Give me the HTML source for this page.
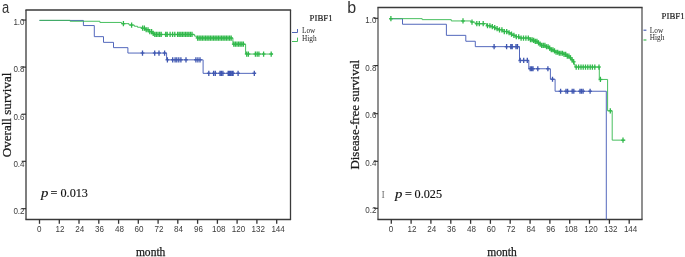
<!DOCTYPE html>
<html><head><meta charset="utf-8"><style>
html,body{margin:0;padding:0;background:#fff;}
body{width:685px;height:257px;overflow:hidden;}
svg{display:block;will-change:transform;}
.tl{font-family:"Liberation Sans",sans-serif;font-size:9.6px;fill:#3c3c3c;}
.lt{font-family:"Liberation Serif",serif;fill:#1e1e1e;}
.pl{font-family:"Liberation Sans",sans-serif;font-size:16px;fill:#333;}
.at{font-family:"Liberation Serif",serif;font-size:12.7px;fill:#1a1a1a;stroke:#1a1a1a;stroke-width:0.25px;}
.pv{font-family:"Liberation Serif",serif;font-size:12.2px;fill:#111;stroke:#111;stroke-width:0.15px;}
.cur{font-family:"Liberation Serif",serif;font-size:10px;fill:#777;}
</style></head><body>
<svg width="685" height="257" viewBox="0 0 685 257">
<path d="M25.4,10.0H291.1M25.4,219.5H291.1" fill="none" stroke="#3a3a3a" stroke-width="1.3"/>
<path d="M26.0,10.0V219.5M290.5,10.0V219.5" fill="none" stroke="#3a3a3a" stroke-width="1.3"/>
<path d="M21.7,20.05H26.0" stroke="#262626" stroke-width="1.1"/>
<text x="24.6" y="25.0" class="tl" text-anchor="end" textLength="11.21" lengthAdjust="spacingAndGlyphs">1.0</text>
<path d="M21.7,67.1H26.0" stroke="#262626" stroke-width="1.1"/>
<text x="24.6" y="72.2" class="tl" text-anchor="end" textLength="11.21" lengthAdjust="spacingAndGlyphs">0.8</text>
<path d="M21.7,114.2H26.0" stroke="#262626" stroke-width="1.1"/>
<text x="24.6" y="119.5" class="tl" text-anchor="end" textLength="11.21" lengthAdjust="spacingAndGlyphs">0.6</text>
<path d="M21.7,161.3H26.0" stroke="#262626" stroke-width="1.1"/>
<text x="24.6" y="166.8" class="tl" text-anchor="end" textLength="11.21" lengthAdjust="spacingAndGlyphs">0.4</text>
<path d="M21.7,208.7H26.0" stroke="#262626" stroke-width="1.1"/>
<text x="24.6" y="214.0" class="tl" text-anchor="end" textLength="11.21" lengthAdjust="spacingAndGlyphs">0.2</text>
<path d="M39.5,219.5V223.8" stroke="#333333" stroke-width="1.3"/>
<text x="39.2" y="232.0" class="tl" text-anchor="middle" textLength="4.48" lengthAdjust="spacingAndGlyphs">0</text>
<path d="M59.3,219.5V223.8" stroke="#333333" stroke-width="1.3"/>
<text x="60.1" y="232.0" class="tl" text-anchor="middle" textLength="8.97" lengthAdjust="spacingAndGlyphs">12</text>
<path d="M79.0,219.5V223.8" stroke="#333333" stroke-width="1.3"/>
<text x="79.8" y="232.0" class="tl" text-anchor="middle" textLength="8.97" lengthAdjust="spacingAndGlyphs">24</text>
<path d="M98.8,219.5V223.8" stroke="#333333" stroke-width="1.3"/>
<text x="99.6" y="232.0" class="tl" text-anchor="middle" textLength="8.97" lengthAdjust="spacingAndGlyphs">36</text>
<path d="M118.6,219.5V223.8" stroke="#333333" stroke-width="1.3"/>
<text x="119.4" y="232.0" class="tl" text-anchor="middle" textLength="8.97" lengthAdjust="spacingAndGlyphs">48</text>
<path d="M138.3,219.5V223.8" stroke="#333333" stroke-width="1.3"/>
<text x="139.1" y="232.0" class="tl" text-anchor="middle" textLength="8.97" lengthAdjust="spacingAndGlyphs">60</text>
<path d="M158.1,219.5V223.8" stroke="#333333" stroke-width="1.3"/>
<text x="158.9" y="232.0" class="tl" text-anchor="middle" textLength="8.97" lengthAdjust="spacingAndGlyphs">72</text>
<path d="M177.8,219.5V223.8" stroke="#333333" stroke-width="1.3"/>
<text x="178.6" y="232.0" class="tl" text-anchor="middle" textLength="8.97" lengthAdjust="spacingAndGlyphs">84</text>
<path d="M197.6,219.5V223.8" stroke="#333333" stroke-width="1.3"/>
<text x="198.4" y="232.0" class="tl" text-anchor="middle" textLength="8.97" lengthAdjust="spacingAndGlyphs">96</text>
<path d="M217.4,219.5V223.8" stroke="#333333" stroke-width="1.3"/>
<text x="218.8" y="232.0" class="tl" text-anchor="middle" textLength="13.45" lengthAdjust="spacingAndGlyphs">108</text>
<path d="M237.1,219.5V223.8" stroke="#333333" stroke-width="1.3"/>
<text x="238.5" y="232.0" class="tl" text-anchor="middle" textLength="13.45" lengthAdjust="spacingAndGlyphs">120</text>
<path d="M256.9,219.5V223.8" stroke="#333333" stroke-width="1.3"/>
<text x="258.3" y="232.0" class="tl" text-anchor="middle" textLength="13.45" lengthAdjust="spacingAndGlyphs">132</text>
<path d="M276.7,219.5V223.8" stroke="#333333" stroke-width="1.3"/>
<text x="278.1" y="232.0" class="tl" text-anchor="middle" textLength="13.45" lengthAdjust="spacingAndGlyphs">144</text>
<g transform="translate(0,0.25)">
<path d="M39.5,20.2H83.4V25.3H94.3V36.4H103.5V42.1H113.5V47.4H127.9V52.8H166.6V59.6H203.1V73.1H256" fill="none" stroke="#4a60b8" stroke-width="0.95" stroke-linejoin="miter" stroke-linecap="butt"/>
<path d="M142.5,50.2V55.4M154.7,50.2V55.4M159.0,50.2V55.4M164.6,50.2V55.4M167.4,57.0V62.2M172.7,57.0V62.2M175.1,57.0V62.2M176.8,57.0V62.2M178.8,57.0V62.2M180.9,57.0V62.2M186.0,57.0V62.2M195.9,57.0V62.2M197.9,57.0V62.2M200.0,57.0V62.2M208.8,70.5V75.7M213.6,70.5V75.7M215.3,70.5V75.7M220.0,70.5V75.7M221.4,70.5V75.7M222.9,70.5V75.7M228.2,70.5V75.7M229.3,70.5V75.7M230.6,70.5V75.7M232.0,70.5V75.7M233.1,70.5V75.7M238.1,70.5V75.7M254.3,70.5V75.7" fill="none" stroke="#3e56b0" stroke-width="1.3"/>
<path d="M140.6,52.8H144.4M152.8,52.8H156.6M157.1,52.8H160.9M162.7,52.8H166.5M165.5,59.6H169.3M170.8,59.6H174.6M173.2,59.6H177.0M174.9,59.6H178.7M176.9,59.6H180.7M179.0,59.6H182.8M184.1,59.6H187.9M194.0,59.6H197.8M196.0,59.6H199.8M198.1,59.6H201.9M206.9,73.1H210.7M211.7,73.1H215.5M213.4,73.1H217.2M218.1,73.1H221.9M219.5,73.1H223.3M221.0,73.1H224.8M226.3,73.1H230.1M227.4,73.1H231.2M228.7,73.1H232.5M230.1,73.1H233.9M231.2,73.1H235.0M236.2,73.1H240.0M252.4,73.1H256.2" fill="none" stroke="#3e56b0" stroke-width="1.5" opacity="0.8"/>
<path d="M39.5,20.1H70.1V21H99.9V22.2H121.5V23.4H129V24.8H134.3V26H137.5V27H141.3V27.9H145.2V29.5H149V31.4H152.2V33.2H154V34.2H194.6V35.9H196.8V37.8H232.9V43.9H245.6V53.8H273" fill="none" stroke="#3dbc55" stroke-width="0.95" stroke-linejoin="miter" stroke-linecap="butt"/>
<path d="M123.4,20.8V26.0M131.6,22.2V27.4M142.6,25.3V30.5M144.4,25.3V30.5M146.2,26.9V32.1M148.0,26.9V32.1M149.8,28.8V34.0M151.6,28.8V34.0M153.2,30.6V35.8M154.8,31.6V36.8M156.4,31.6V36.8M158.0,31.6V36.8M159.6,31.6V36.8M161.2,31.6V36.8M165.7,31.6V36.8M167.2,31.6V36.8M170.1,31.6V36.8M172.6,31.6V36.8M174.8,31.6V36.8M177.6,31.6V36.8M179.2,31.6V36.8M180.8,31.6V36.8M182.4,31.6V36.8M184.0,31.6V36.8M185.6,31.6V36.8M187.2,31.6V36.8M188.8,31.6V36.8M190.4,31.6V36.8M192.0,31.6V36.8M197.6,35.2V40.4M199.2,35.2V40.4M200.8,35.2V40.4M202.4,35.2V40.4M204.0,35.2V40.4M205.6,35.2V40.4M207.2,35.2V40.4M208.8,35.2V40.4M210.4,35.2V40.4M212.0,35.2V40.4M213.6,35.2V40.4M215.2,35.2V40.4M216.8,35.2V40.4M218.4,35.2V40.4M220.0,35.2V40.4M221.6,35.2V40.4M223.2,35.2V40.4M224.8,35.2V40.4M226.4,35.2V40.4M228.0,35.2V40.4M229.6,35.2V40.4M231.2,35.2V40.4M233.8,41.3V46.5M235.4,41.3V46.5M237.0,41.3V46.5M238.6,41.3V46.5M240.2,41.3V46.5M241.8,41.3V46.5M243.4,41.3V46.5M246.7,51.2V56.4M248.4,51.2V56.4M255.4,51.2V56.4M257.2,51.2V56.4M258.9,51.2V56.4M263.6,51.2V56.4M271.2,51.2V56.4" fill="none" stroke="#30b84a" stroke-width="1.3"/>
<path d="M121.5,23.4H125.3M129.7,24.8H133.5M140.7,27.9H144.5M142.5,27.9H146.3M144.3,29.5H148.1M146.1,29.5H149.9M147.9,31.4H151.7M149.7,31.4H153.5M151.3,33.2H155.1M152.9,34.2H156.7M154.5,34.2H158.3M156.1,34.2H159.9M157.7,34.2H161.5M159.3,34.2H163.1M163.8,34.2H167.6M165.3,34.2H169.1M168.2,34.2H172.0M170.7,34.2H174.5M172.9,34.2H176.7M175.7,34.2H179.5M177.3,34.2H181.1M178.9,34.2H182.7M180.5,34.2H184.3M182.1,34.2H185.9M183.7,34.2H187.5M185.3,34.2H189.1M186.9,34.2H190.7M188.5,34.2H192.3M190.1,34.2H193.9M195.7,37.8H199.5M197.3,37.8H201.1M198.9,37.8H202.7M200.5,37.8H204.3M202.1,37.8H205.9M203.7,37.8H207.5M205.3,37.8H209.1M206.9,37.8H210.7M208.5,37.8H212.3M210.1,37.8H213.9M211.7,37.8H215.5M213.3,37.8H217.1M214.9,37.8H218.7M216.5,37.8H220.3M218.1,37.8H221.9M219.7,37.8H223.5M221.3,37.8H225.1M222.9,37.8H226.7M224.5,37.8H228.3M226.1,37.8H229.9M227.7,37.8H231.5M229.3,37.8H233.1M231.9,43.9H235.7M233.5,43.9H237.3M235.1,43.9H238.9M236.7,43.9H240.5M238.3,43.9H242.1M239.9,43.9H243.7M241.5,43.9H245.3M244.8,53.8H248.6M246.5,53.8H250.3M253.5,53.8H257.3M255.3,53.8H259.1M257.0,53.8H260.8M261.7,53.8H265.5M269.3,53.8H273.1" fill="none" stroke="#30b84a" stroke-width="1.5" opacity="0.8"/>
</g>
<text x="309.6" y="20.6" class="lt" font-size="8.8" stroke="#1e1e1e" stroke-width="0.2">PIBF1</text>
<path d="M292,32.5H297.5V29" fill="none" stroke="#3e56b0" stroke-width="0.9"/>
<path d="M292,41.5H297.5V37.6" fill="none" stroke="#30b84a" stroke-width="0.9"/>
<text x="302" y="32.8" class="lt" font-size="7.3">Low</text>
<text x="302" y="40.6" class="lt" font-size="7.3">High</text>
<text x="2.0" y="12.9" class="pl" font-size="14.3" textLength="7.2" lengthAdjust="spacingAndGlyphs">a</text>
<text transform="translate(10.9,157.2) rotate(-90)" class="at" font-size="13.4" textLength="84.6" lengthAdjust="spacingAndGlyphs">Overall survival</text>
<text x="135.9" y="256.2" class="at" font-size="12" textLength="29.5" lengthAdjust="spacingAndGlyphs">month</text>
<text x="40.9" y="196.9" class="pv" font-style="italic" textLength="7.4" lengthAdjust="spacingAndGlyphs">p</text>
<text x="50.5" y="196.9" class="pv">=</text>
<text x="60.5" y="196.9" class="pv">0.013</text>
<path d="M377.4,7.5H642.6M377.4,219.5H642.6" fill="none" stroke="#3a3a3a" stroke-width="1.3"/>
<path d="M378.0,7.5V219.5M642.0,7.5V219.5" fill="none" stroke="#3a3a3a" stroke-width="1.12"/>
<path d="M373.7,18.3H378.0" stroke="#262626" stroke-width="1.1"/>
<text x="376.4" y="22.9" class="tl" text-anchor="end" textLength="11.21" lengthAdjust="spacingAndGlyphs">1.0</text>
<path d="M373.7,65.6H378.0" stroke="#262626" stroke-width="1.1"/>
<text x="376.4" y="70.5" class="tl" text-anchor="end" textLength="11.21" lengthAdjust="spacingAndGlyphs">0.8</text>
<path d="M373.7,113.7H378.0" stroke="#262626" stroke-width="1.1"/>
<text x="376.4" y="118.1" class="tl" text-anchor="end" textLength="11.21" lengthAdjust="spacingAndGlyphs">0.6</text>
<path d="M373.7,161.3H378.0" stroke="#262626" stroke-width="1.1"/>
<text x="376.4" y="165.7" class="tl" text-anchor="end" textLength="11.21" lengthAdjust="spacingAndGlyphs">0.4</text>
<path d="M373.7,208.3H378.0" stroke="#262626" stroke-width="1.1"/>
<text x="376.4" y="213.3" class="tl" text-anchor="end" textLength="11.21" lengthAdjust="spacingAndGlyphs">0.2</text>
<path d="M391.3,219.5V223.8" stroke="#333333" stroke-width="1.3"/>
<text x="391.0" y="232.0" class="tl" text-anchor="middle" textLength="4.48" lengthAdjust="spacingAndGlyphs">0</text>
<path d="M411.1,219.5V223.8" stroke="#333333" stroke-width="1.3"/>
<text x="411.9" y="232.0" class="tl" text-anchor="middle" textLength="8.97" lengthAdjust="spacingAndGlyphs">12</text>
<path d="M430.9,219.5V223.8" stroke="#333333" stroke-width="1.3"/>
<text x="431.7" y="232.0" class="tl" text-anchor="middle" textLength="8.97" lengthAdjust="spacingAndGlyphs">24</text>
<path d="M450.8,219.5V223.8" stroke="#333333" stroke-width="1.3"/>
<text x="451.6" y="232.0" class="tl" text-anchor="middle" textLength="8.97" lengthAdjust="spacingAndGlyphs">36</text>
<path d="M470.6,219.5V223.8" stroke="#333333" stroke-width="1.3"/>
<text x="471.4" y="232.0" class="tl" text-anchor="middle" textLength="8.97" lengthAdjust="spacingAndGlyphs">48</text>
<path d="M490.4,219.5V223.8" stroke="#333333" stroke-width="1.3"/>
<text x="491.2" y="232.0" class="tl" text-anchor="middle" textLength="8.97" lengthAdjust="spacingAndGlyphs">60</text>
<path d="M510.2,219.5V223.8" stroke="#333333" stroke-width="1.3"/>
<text x="511.0" y="232.0" class="tl" text-anchor="middle" textLength="8.97" lengthAdjust="spacingAndGlyphs">72</text>
<path d="M530.1,219.5V223.8" stroke="#333333" stroke-width="1.3"/>
<text x="530.9" y="232.0" class="tl" text-anchor="middle" textLength="8.97" lengthAdjust="spacingAndGlyphs">84</text>
<path d="M549.9,219.5V223.8" stroke="#333333" stroke-width="1.3"/>
<text x="550.7" y="232.0" class="tl" text-anchor="middle" textLength="8.97" lengthAdjust="spacingAndGlyphs">96</text>
<path d="M569.7,219.5V223.8" stroke="#333333" stroke-width="1.3"/>
<text x="571.1" y="232.0" class="tl" text-anchor="middle" textLength="13.45" lengthAdjust="spacingAndGlyphs">108</text>
<path d="M589.5,219.5V223.8" stroke="#333333" stroke-width="1.3"/>
<text x="590.9" y="232.0" class="tl" text-anchor="middle" textLength="13.45" lengthAdjust="spacingAndGlyphs">120</text>
<path d="M609.4,219.5V223.8" stroke="#333333" stroke-width="1.3"/>
<text x="610.8" y="232.0" class="tl" text-anchor="middle" textLength="13.45" lengthAdjust="spacingAndGlyphs">132</text>
<path d="M629.2,219.5V223.8" stroke="#333333" stroke-width="1.3"/>
<text x="630.6" y="232.0" class="tl" text-anchor="middle" textLength="13.45" lengthAdjust="spacingAndGlyphs">144</text>
<g transform="translate(0,0.25)">
<path d="M391.3,18.5H402.5V24H446.4V35.1H465.8V41H475.3V46.4H519.5V60.2H528.8V68.5H550.4V79H555.1V91H606.3V219.3" fill="none" stroke="#4a60b8" stroke-width="0.95" stroke-linejoin="miter" stroke-linecap="butt"/>
<path d="M494.1,43.8V49.0M506.6,43.8V49.0M510.8,43.8V49.0M512.2,43.8V49.0M516.0,43.8V49.0M517.5,43.8V49.0M520.2,57.6V62.8M523.7,57.6V62.8M527.3,57.6V62.8M530.2,65.9V71.1M531.6,65.9V71.1M533.0,65.9V71.1M537.8,65.9V71.1M547.9,65.9V71.1M552.5,76.4V81.6M560.6,88.4V93.6M566.0,88.4V93.6M567.6,88.4V93.6M572.2,88.4V93.6M573.8,88.4V93.6M580.0,88.4V93.6M581.5,88.4V93.6M583.1,88.4V93.6M590.1,88.4V93.6" fill="none" stroke="#3e56b0" stroke-width="1.3"/>
<path d="M492.2,46.4H496.0M504.7,46.4H508.5M508.9,46.4H512.7M510.3,46.4H514.1M514.1,46.4H517.9M515.6,46.4H519.4M518.3,60.2H522.1M521.8,60.2H525.6M525.4,60.2H529.2M528.3,68.5H532.1M529.7,68.5H533.5M531.1,68.5H534.9M535.9,68.5H539.7M546.0,68.5H549.8M550.6,79.0H554.4M558.7,91.0H562.5M564.1,91.0H567.9M565.7,91.0H569.5M570.3,91.0H574.1M571.9,91.0H575.7M578.1,91.0H581.9M579.6,91.0H583.4M581.2,91.0H585.0M588.2,91.0H592.0" fill="none" stroke="#3e56b0" stroke-width="1.5" opacity="0.8"/>
<path d="M389.4,18.4H422.2V19.4H451.3V20.7H471.1V21.8H475V23.4H486.5V25.5H490V26.4H493V27.3H495.5V28.4H498V29.6H502.7V31.3H508.5V32.5H510V33.8H512V35.1H515.5V36.5H519V37.8H530.1V39.5H532.5V40.2H534.8V41.1H537V42.6H539V43.8H541.6V45.2H545V46.5H548.4V47.9H551V49.5H553V50.7H555.2V52H559V53H563.4V54.1H566V55.8H568.9V57.5H571V59.6H573V61.6H574V64H575V66.8H599.3V79.2H607.6V110.6H612.2V139.9H625.4" fill="none" stroke="#3dbc55" stroke-width="0.95" stroke-linejoin="miter" stroke-linecap="butt"/>
<path d="M390.9,15.8V21.0M463.0,18.1V23.3M472.0,19.2V24.4M476.8,20.8V26.0M479.3,20.8V26.0M483.2,20.8V26.0M487.5,22.9V28.1M489.9,22.9V28.1M492.3,23.8V29.0M494.7,24.7V29.9M497.1,25.8V31.0M499.5,27.0V32.2M501.9,27.0V32.2M504.3,28.7V33.9M506.7,28.7V33.9M509.1,29.9V35.1M511.5,31.2V36.4M513.9,32.5V37.7M516.3,33.9V39.1M518.7,33.9V39.1M521.1,35.2V40.4M523.5,35.2V40.4M525.9,35.2V40.4M528.3,35.2V40.4M530.5,36.9V42.1M532.1,36.9V42.1M533.7,37.6V42.8M535.3,38.5V43.7M536.9,38.5V43.7M538.5,40.0V45.2M540.1,41.2V46.4M541.7,42.6V47.8M543.3,42.6V47.8M544.9,42.6V47.8M546.5,43.9V49.1M548.1,43.9V49.1M549.7,45.3V50.5M551.3,46.9V52.1M552.9,46.9V52.1M554.5,48.1V53.3M556.1,49.4V54.6M557.7,49.4V54.6M559.3,50.4V55.6M560.9,50.4V55.6M562.5,50.4V55.6M564.1,51.5V56.7M565.7,51.5V56.7M567.3,53.2V58.4M568.9,53.2V58.4M570.5,54.9V60.1M572.1,57.0V62.2M573.7,59.0V64.2M576.2,64.2V69.4M578.6,64.2V69.4M581.0,64.2V69.4M583.2,64.2V69.4M585.5,64.2V69.4M587.8,64.2V69.4M590.2,64.2V69.4M592.4,64.2V69.4M594.8,64.2V69.4M599.0,64.2V69.4M600.4,76.6V81.8M610.3,108.0V113.2M623.0,137.3V142.5" fill="none" stroke="#30b84a" stroke-width="1.3"/>
<path d="M389.0,18.4H392.8M461.1,20.7H464.9M470.1,21.8H473.9M474.9,23.4H478.7M477.4,23.4H481.2M481.3,23.4H485.1M485.6,25.5H489.4M488.0,25.5H491.8M490.4,26.4H494.2M492.8,27.3H496.6M495.2,28.4H499.0M497.6,29.6H501.4M500.0,29.6H503.8M502.4,31.3H506.2M504.8,31.3H508.6M507.2,32.5H511.0M509.6,33.8H513.4M512.0,35.1H515.8M514.4,36.5H518.2M516.8,36.5H520.6M519.2,37.8H523.0M521.6,37.8H525.4M524.0,37.8H527.8M526.4,37.8H530.2M528.6,39.5H532.4M530.2,39.5H534.0M531.8,40.2H535.6M533.4,41.1H537.2M535.0,41.1H538.8M536.6,42.6H540.4M538.2,43.8H542.0M539.8,45.2H543.6M541.4,45.2H545.2M543.0,45.2H546.8M544.6,46.5H548.4M546.2,46.5H550.0M547.8,47.9H551.6M549.4,49.5H553.2M551.0,49.5H554.8M552.6,50.7H556.4M554.2,52.0H558.0M555.8,52.0H559.6M557.4,53.0H561.2M559.0,53.0H562.8M560.6,53.0H564.4M562.2,54.1H566.0M563.8,54.1H567.6M565.4,55.8H569.2M567.0,55.8H570.8M568.6,57.5H572.4M570.2,59.6H574.0M571.8,61.6H575.6M574.3,66.8H578.1M576.7,66.8H580.5M579.1,66.8H582.9M581.3,66.8H585.1M583.6,66.8H587.4M585.9,66.8H589.7M588.3,66.8H592.1M590.5,66.8H594.3M592.9,66.8H596.7M597.1,66.8H600.9M598.5,79.2H602.3M608.4,110.6H612.2M621.1,139.9H624.9" fill="none" stroke="#30b84a" stroke-width="1.5" opacity="0.8"/>
</g>
<text x="661.6" y="18.8" class="lt" font-size="8.8" stroke="#1e1e1e" stroke-width="0.2">PIBF1</text>
<path d="M643.5,30.2H646.4" fill="none" stroke="#3e56b0" stroke-width="1.1"/>
<path d="M643.5,40H646.4" fill="none" stroke="#30b84a" stroke-width="1.1"/>
<text x="649.8" y="32.5" class="lt" font-size="7.3">Low</text>
<text x="649.8" y="40" class="lt" font-size="7.3">High</text>
<text x="347.3" y="13" class="pl" font-size="15.6">b</text>
<text transform="translate(358.8,169.6) rotate(-90)" class="at" font-size="13.4" textLength="109.6" lengthAdjust="spacingAndGlyphs">Disease-free survival</text>
<text x="487.3" y="255.6" class="at" font-size="12" textLength="29.5" lengthAdjust="spacingAndGlyphs">month</text>
<text x="381.6" y="198.3" class="cur">I</text>
<text x="395.1" y="198.3" class="pv" font-style="italic" textLength="7.4" lengthAdjust="spacingAndGlyphs">p</text>
<text x="404.9" y="198.3" class="pv">=</text>
<text x="414.6" y="198.3" class="pv">0.025</text>
</svg>
</body></html>
